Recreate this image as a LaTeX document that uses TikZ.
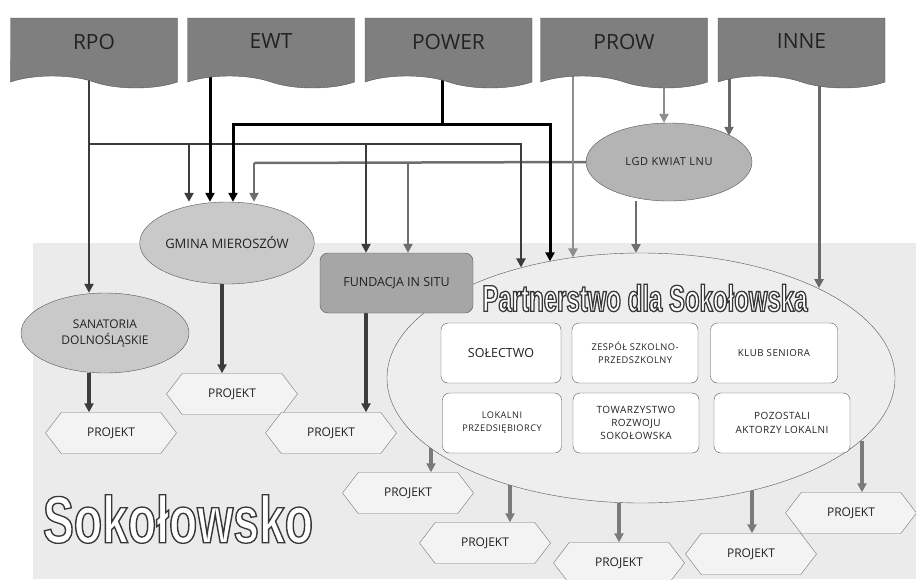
\documentclass[tikz,border=0pt]{standalone}
\usepackage{fontspec}
\setmainfont{Open Sans}
\newfontfamily\titlefont[FakeStretch=0.64]{Liberation Sans}
\newfontfamily\memberfont[LetterSpace=5]{Open Sans}
\usepackage{graphicx}
\usetikzlibrary{arrows.meta,positioning,shapes.geometric,shapes.symbols,backgrounds}
\definecolor{srcfill}{HTML}{7F7F7F}
\definecolor{srcdraw}{HTML}{555555}
\definecolor{bgarea}{HTML}{EBEBEB}
\definecolor{partfill}{HTML}{EEEEEE}
\definecolor{orgfill}{HTML}{C9C9C9}
\definecolor{lgdfill}{HTML}{B4B4B4}
\definecolor{fundfill}{HTML}{A6A6A6}
\definecolor{projfill}{HTML}{F3F3F3}
\definecolor{edge}{HTML}{555555}
\definecolor{txt}{HTML}{222222}
\definecolor{rpoline}{HTML}{3C3C3C}
\definecolor{lgdline}{HTML}{6E6E6E}
\definecolor{prowline}{HTML}{8E8E8E}
\definecolor{inneline}{HTML}{686868}
\definecolor{outline}{HTML}{7A7A7A}
% white letters with a thin dark outline (text render mode 2)
\newcommand{\outlined}[3]{\resizebox{#1}{#2}{\color{white}%
  \special{pdf:code q 2 Tr 1.3 w 0.22 G}#3\special{pdf:code Q}}}

\begin{document}
\begin{tikzpicture}[x=1pt, y=-1pt,
  src/.style={tape, tape bend top=none, tape bend bottom=out and in,
              tape bend height=12pt, draw=srcdraw, fill=srcfill,
              minimum width=167pt, minimum height=70pt, inner sep=0pt,
              text depth=11pt, text=txt, font=\fontsize{21}{24}\selectfont},
  org/.style={ellipse, draw=edge, fill=orgfill, inner sep=0pt, align=center,
              text=txt, font=\fontsize{12}{16}\selectfont},
  proj/.style={signal, signal to=west and east, signal pointer angle=105,
               draw=edge!80, fill=projfill, minimum width=131pt,
               minimum height=41pt, inner sep=0pt, text=txt,
               font=\fontsize{12}{14}\selectfont},
  member/.style={draw=edge, fill=white, rounded corners=7pt, minimum height=60pt,
                 inner sep=0pt, align=center, text=txt},
  arr/.style={-{Triangle[length=9pt,width=9pt]}},
  rpol/.style={rpoline, line width=2.8pt},
  ewtl/.style={black, line width=3pt},
  powl/.style={black, line width=3pt},
  lgdl/.style={lgdline, line width=2.5pt},
  prowl/.style={prowline, line width=2.5pt},
  innel/.style={inneline, line width=3pt},
  outl/.style={outline, line width=3.5pt},
  darkl/.style={rpoline, line width=3.5pt}
]
  \useasboundingbox (0,0) rectangle (916,579);

  \node[src] (rpo)   at (94,47)    {RPO};
  \node[src] (ewt)   at (271,47)   {EWT};
  \node[src] (power) at (448.5,47) {POWER};
  \node[src] (prow)  at (624,47)   {PROW};
  \node[src] (inne)  at (801.5,47) {INNE};

  \node[org, fill=lgdfill, minimum width=166pt, minimum height=78pt,
        font=\memberfont\fontsize{11}{13}\selectfont] (lgd) at (669,162) {LGD KWIAT LNU};
  \node[org, minimum width=167pt, minimum height=82pt,
        font=\fontsize{13}{16}\selectfont] (gmina) at (227,243) {GMINA MIEROSZÓW};
  \node[org, minimum width=168pt, minimum height=80pt] (sana) at (105,333) {SANATORIA\\DOLNOŚLĄSKIE};

  \node[ellipse, draw=edge, fill=partfill, minimum width=508pt, minimum height=250pt,
        inner sep=0pt, outer sep=0pt] (part) at (641,378) {};
  \node[draw=edge, fill=fundfill, rounded corners=8pt, minimum width=153pt,
        minimum height=60pt, text=txt, font=\fontsize{12.5}{15}\selectfont] (fund) at (396.5,283) {FUNDACJA IN SITU};

  \node[font=\titlefont\bfseries\fontsize{38}{40}\selectfont] (ptitle) at (645,298)
    {\outlined{325pt}{27pt}{Partnerstwo dla Sokołowska}};
  \node[font=\titlefont\bfseries\fontsize{66}{70}\selectfont] (stitle) at (178,519)
    {\outlined{270pt}{48pt}{Sokołowsko}};

  \node[member, minimum width=120pt, font=\fontsize{12.5}{14}\selectfont] (solectwo) at (501,353) {SOŁECTWO};
  \node[member, minimum width=126pt, font=\memberfont\fontsize{9.3}{12.7}\selectfont] (zespol) at (635,353) {ZESPÓŁ SZKOLNO-\\PRZEDSZKOLNY};
  \node[member, minimum width=127pt, font=\memberfont\fontsize{9.7}{12.7}\selectfont] (klub) at (774,353) {KLUB SENIORA};
  \node[member, minimum width=119pt, font=\memberfont\fontsize{9.2}{13}\selectfont] (lokalni) at (502,423) {LOKALNI\\PRZEDSIĘBIORCY};
  \node[member, minimum width=126pt, font=\memberfont\fontsize{10}{13.3}\selectfont] (towarz) at (636,423) {TOWARZYSTWO\\ROZWOJU\\SOKOŁOWSKA};
  \node[member, minimum width=136pt, font=\memberfont\fontsize{10}{13.3}\selectfont] (pozost) at (782,423) {POZOSTALI\\AKTORZY LOKALNI};

  \node[proj] (proj1) at (232,394) {PROJEKT};
  \node[proj] (proj2) at (111,433) {PROJEKT};
  \node[proj] (proj3) at (331,433) {PROJEKT};
  \node[proj] (proj4) at (408,493) {PROJEKT};
  \node[proj] (proj5) at (485,543) {PROJEKT};
  \node[proj] (proj6) at (619,563) {PROJEKT};
  \node[proj] (proj7) at (751,554) {PROJEKT};
  \node[proj] (proj8) at (851,513) {PROJEKT};

  \coordinate (rpoT) at (89,144);
  \coordinate (rpoG) at (189,144);
  \coordinate (rpoF) at (366,144);
  \coordinate (rpoE) at (521,144);
  \coordinate (ewtX) at (210,100);
  \coordinate (powT) at (442,124);
  \coordinate (powW) at (233,124);
  \coordinate (powE) at (550,124);
  \coordinate (lgdW) at (254,163);
  \coordinate (lgdF) at (408,163);
  \coordinate (lgdP) at (636,210);
  \coordinate (prowP) at (573,100);
  \coordinate (prowL) at (664,100);
  \coordinate (inneL) at (729,100);
  \coordinate (inneP) at (819,100);
  \coordinate (gmX) at (222,300);
  \coordinate (fuX) at (366,320);
  \coordinate (out4) at (431,460);
  \coordinate (out5) at (510,500);
  \coordinate (out7) at (752,500);
  \coordinate (out8) at (862,460);

  \begin{scope}[on background layer]
    \fill[bgarea] (33,243) rectangle (916,579);

    \draw[lgdl] (lgd.west) -- (lgdW);
    \draw[lgdl, arr] (lgdW) -- (gmina.north -| lgdW);
    \draw[lgdl, arr] (lgdF) -- (fund.north -| lgdF);
    \draw[lgdl, arr] (lgdP |- lgd.south) -- (part.north -| lgdP);

    \draw[prowl, arr] (prow.center -| prowP) -- (part.119 -| prowP);
    \draw[prowl, arr] (prow.center -| prowL) -- (lgd.north -| prowL);

    \draw[innel, arr] (inne.center -| inneL) -- (lgd.23 -| inneL);
    \draw[innel, arr] (inne.center -| inneP) -- (part.27 -| inneP);

    \draw[rpol, arr] (rpo.center -| rpoT) -- (sana.north -| rpoT);
    \draw[rpol, arr] (rpoT) -- (rpoE) -- (part.137 -| rpoE);
    \draw[rpol, arr] (rpoG) -- (gmina.north -| rpoG);
    \draw[rpol, arr] (rpoF) -- (fund.north -| rpoF);

    \draw[ewtl, arr] (ewt.center -| ewtX) -- (gmina.north -| ewtX);

    \draw[powl] (power.center -| powT) -- (powT);
    \draw[powl, arr] (powT) -- (powW) -- (gmina.north -| powW);
    \draw[powl, arr] (powT) -- (powE) -- (part.128 -| powE);

    \draw[darkl, arr] (sana.south -| rpoT) -- (proj2.north -| rpoT);
    \draw[darkl, arr] (gmina.south -| gmX) -- (proj1.north -| gmX);
    \draw[darkl, arr] (fund.south -| fuX) -- (proj3.north -| fuX);

    \draw[outl, arr] (part.198 -| out4) -- (proj4.north -| out4);
    \draw[outl, arr] (part.219 -| out5) -- (proj5.north -| out5);
    \draw[outl, arr] (part.south -| proj6.north) -- (proj6.north);
    \draw[outl, arr] (part.315 -| out7) -- (proj7.north -| out7);
    \draw[outl, arr] (part.344 -| out8) -- (proj8.north -| out8);
  \end{scope}
\end{tikzpicture}
\end{document}
